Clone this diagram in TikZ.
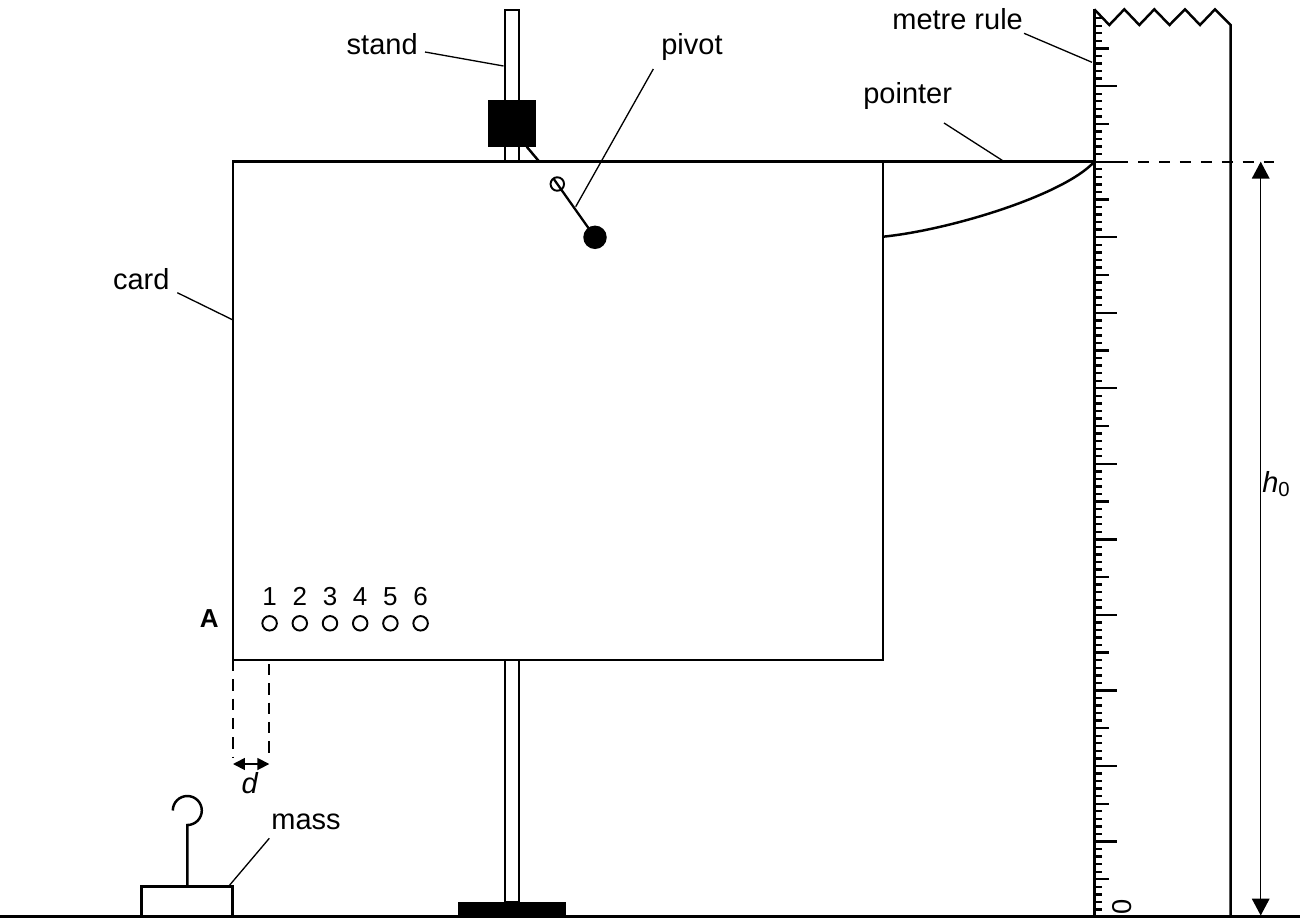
\documentclass[tikz,border=0pt]{standalone}
\usepackage{fontspec}
\setmainfont{Liberation Sans}
\usetikzlibrary{arrows.meta,calc}
\tikzset{
  lbl/.style={font=\fontsize{16.5}{19}\selectfont, inner sep=0pt},
  num/.style={font=\fontsize{14.8}{17}\selectfont, inner sep=0pt},
  leader/.style={line width=0.75pt},
  thickline/.style={line width=1.4pt},
  hole/.style={circle, draw, line width=1.1pt, minimum size=0.29cm, inner sep=0pt},
  tick/.style={line width=1.35pt},
  dimtip/.style={line width=0.8pt, {Triangle[length=9.6pt,width=10pt]}-{Triangle[length=9.6pt,width=10pt]}},
  smalltip/.style={line width=1pt, {Triangle[length=6.8pt,width=6.8pt]}-{Triangle[length=6.8pt,width=6.8pt]}},
  dashline/.style={line width=1.3pt, dash pattern=on 6.5pt off 4.5pt}
}
\begin{document}
\begin{tikzpicture}[x=0.02cm, y=-0.02cm]
\useasboundingbox (0,0) rectangle (1300,919);

% ground
\coordinate (g0) at (0,916.5);
\coordinate (g1) at (1300,916.5);
\draw[line width=1.8pt] (g0) -- (g1);

% stand rod, clamp, base
\draw[thickline, fill=white] (505,10) rectangle (519,902);
\fill (488.3,100) rectangle (535.7,146.7);
\coordinate (clampc) at (526.7,146.7);
\coordinate (clampd) at (539.3,161.7);
\draw[thickline] (clampc) -- (clampd);
\fill (458.3,901.7) rectangle (566,917);

% card
\coordinate (cardTL) at (233,161.7);
\coordinate (cardBR) at (883,660);
\draw[thickline, fill=white] (cardTL) rectangle (cardBR);

% pointer
\coordinate (ptrA) at (883,236.7);
\coordinate (ptrB) at (1094.3,161.7);
\coordinate (cardTR) at (883,161.7);
\draw[thickline] (ptrA) .. controls (950,230) and (1064,195) .. (ptrB);
\draw[thickline] (cardTR) -- (ptrB);
\coordinate (dashEnd) at (1277,161.7);
\draw[line width=1.35pt, dash pattern=on 6.2pt off 5.7pt] ([xshift=0.04cm]ptrB) -- (dashEnd);

% pivot
\node[circle, draw, line width=1.1pt, fill=white, minimum size=0.27cm, inner sep=0pt] (pvsmall) at (557.3,184) {};
\node[circle, fill, minimum size=0.47cm, inner sep=0pt] (pvbig) at (595,237.3) {};
\draw[line width=1.3pt] ($(pvsmall.center)!-0.1!(pvbig.center)$) -- (pvbig.center);

% metre rule
\draw[line width=2pt] (1094.3,9.3) -- (1094.3,917);
\draw[line width=1.4pt, line join=miter] (1094.3,9.3) -- (1109.3,25) -- (1124.3,9.3) -- (1139.3,25) -- (1154.3,9.3) -- (1169.5,25) -- (1185,9.3) -- (1200,25) -- (1215,9.3) -- (1230.7,25) -- (1230.7,917);
\foreach \i in {1,...,119} {
  \pgfmathsetmacro\tl{ifthenelse(mod(\i,10)==0,23,ifthenelse(mod(\i,5)==0,15,8))}
  \draw[tick] (1094.3,{917-\i*7.553}) -- ++(\tl,0);
}
\node[font=\fontsize{15.5}{17}\selectfont, inner sep=0pt, rotate=90] (zero) at (1122,907) {0};

% h0 dimension
\coordinate (hTop) at (1260.7,161.7);
\coordinate (hBot) at (1260.7,915.5);
\draw[dimtip] (hTop) -- (hBot);
\node[lbl, anchor=base west] (h0) at (1262,492) {\textit{h}\textsubscript{0}};

% holes and numbers
\foreach \k [count=\n from 0] in {1,...,6} {
  \node[hole] (hole\k) at ({269.6+30.2*\n},623.3) {};
  \node[num, anchor=base] (num\k) at ({269.6+30.2*\n},605.7) {\k};
}
\node[num, font=\fontsize{14.8}{17}\selectfont\bfseries, anchor=base] (A) at (209.3,627.7) {A};

% d dimension
\coordinate (dA) at (233,660);
\coordinate (dAb) at (233,757);
\coordinate (dB) at (269.3,664);
\coordinate (dBb) at (269.3,757);
\draw[dashline] (dA) -- (dAb);
\draw[dashline] (dB) -- (dBb);
\coordinate (dL) at (233,764);
\coordinate (dR) at (269.3,764);
\draw[smalltip] (dL) -- (dR);
\node[lbl, anchor=base] (dlbl) at (250,793) {\textit{d}};

% mass
\draw[thickline, fill=white] (141.7,886.7) rectangle (232.7,916.5);
\coordinate (stemB) at (187.3,886.7);
\coordinate (stemT) at (187.3,825);
\draw[thickline] (stemB) -- (stemT) arc[start angle=90, end angle=-180, radius=14.5];

% labels and leaders
\node[lbl, anchor=base east] (lstand) at (418,55) {stand};
\coordinate (stand1) at (425,52);
\coordinate (stand2) at (503.5,66);
\draw[leader] (stand1) -- (stand2);

\node[lbl, anchor=base west] (lpivot) at (661,55) {pivot};
\coordinate (pivot1) at (653.3,69);
\coordinate (pivot2) at (575.7,206.7);
\draw[leader] (pivot1) -- (pivot2);

\node[lbl, anchor=base west] (lrule) at (892,29.5) {metre rule};
\coordinate (rule1) at (1024,33.3);
\coordinate (rule2) at (1092,62.3);
\draw[leader] (rule1) -- (rule2);

\node[lbl, anchor=base west] (lpointer) at (863,103) {pointer};
\coordinate (ptr1) at (944,123);
\coordinate (ptr2) at (1004.3,161.7);
\draw[leader] (ptr1) -- (ptr2);

\node[lbl, anchor=base west] (lcard) at (112.7,289.3) {card};
\coordinate (card1) at (177.3,292.7);
\coordinate (card2) at (233,320);
\draw[leader] (card1) -- (card2);

\node[lbl, anchor=base west] (lmass) at (271,829) {mass};
\coordinate (mass1) at (269.3,838.3);
\coordinate (mass2) at (228.3,886.7);
\draw[leader] (mass1) -- (mass2);
\end{tikzpicture}
\end{document}
